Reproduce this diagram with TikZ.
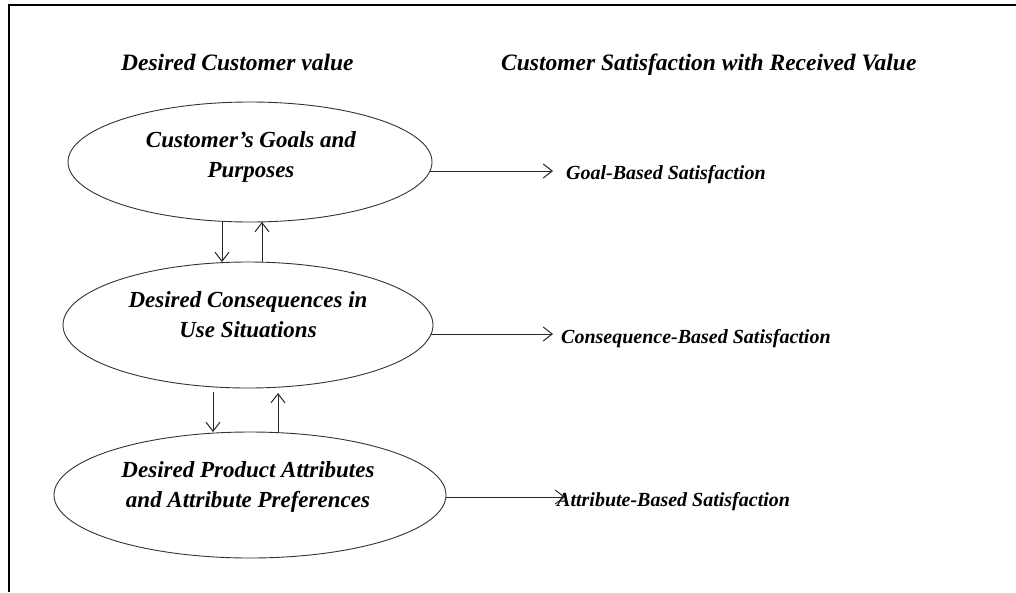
\documentclass[tikz,border=0pt]{standalone}
\usepackage{fontspec}
\setmainfont{Liberation Serif}
\usetikzlibrary{shapes.geometric,arrows.meta}
\tikzset{
  oval/.style={ellipse, draw=black!80, line width=0.9pt, inner sep=0pt, outer sep=0pt},
  ovaltext/.style={align=center, inner sep=0pt, anchor=base, font=\fontsize{23}{29.5}\selectfont\bfseries\itshape},
  head/.style={inner sep=0pt, anchor=base west, font=\fontsize{23.5}{28}\selectfont\bfseries\itshape},
  res/.style={inner sep=0pt, anchor=base west, font=\fontsize{20}{24}\selectfont\bfseries\itshape},
  arr/.style={line width=1pt, draw=black!85, -{Straight Barb[length=9pt,width=14pt,line width=1pt]}},
}
\begin{document}
\begin{tikzpicture}[x=1pt,y=-1pt]
\useasboundingbox (0,0) rectangle (1016,592);
\fill[white] (0,0) rectangle (1016,592);
% frame (top and left edges visible)
\draw[line width=2pt] (9,592) -- (9,5) -- (1016,5);
% headers
\node[head] (h1) at (121,70) {Desired Customer value};
\node[head] (h2) at (501,70) {Customer Satisfaction with Received Value};
% ellipses
\node[oval, minimum width=364pt, minimum height=120pt] (e1) at (250,162) {};
\node[oval, minimum width=370pt, minimum height=126pt] (e2) at (248,325) {};
\node[oval, minimum width=392pt, minimum height=126pt] (e3) at (250,495) {};
\node[ovaltext] (t1) at (251,177) {Customer’s Goals and\\Purposes};
\node[ovaltext] (t2) at (248,337) {Desired Consequences in\\Use Situations};
\node[ovaltext] (t3) at (248,507) {Desired Product Attributes\\and Attribute Preferences};
% results
\node[res] (r1) at (566,179) {Goal-Based Satisfaction};
\node[res] (r2) at (561,343) {Consequence-Based Satisfaction};
\node[res] (r3) at (557,506) {Attribute-Based Satisfaction};
\coordinate (c1) at (553,171);
\coordinate (c2) at (553,334);
\coordinate (c3) at (565,497);
% vertical arrows
\draw[arr] ([xshift=-28pt]e1.south) -- ([xshift=-26pt]e2.north);
\draw[arr] ([xshift=14pt]e2.north) -- ([xshift=12pt]e1.south);
\draw[arr] ([xshift=-35pt,yshift=-4pt]e2.south) -- ([xshift=-37pt]e3.north);
\draw[arr] ([xshift=28pt]e3.north) -- ([xshift=30pt,yshift=-5pt]e2.south);
% horizontal arrows
\draw[arr] ([xshift=-2pt,yshift=-9pt]e1.east) -- (c1);
\draw[arr] ([xshift=-2pt,yshift=-9pt]e2.east) -- (c2);
\draw[arr] ([yshift=-2pt]e3.east) -- (c3);
\end{tikzpicture}
\end{document}
